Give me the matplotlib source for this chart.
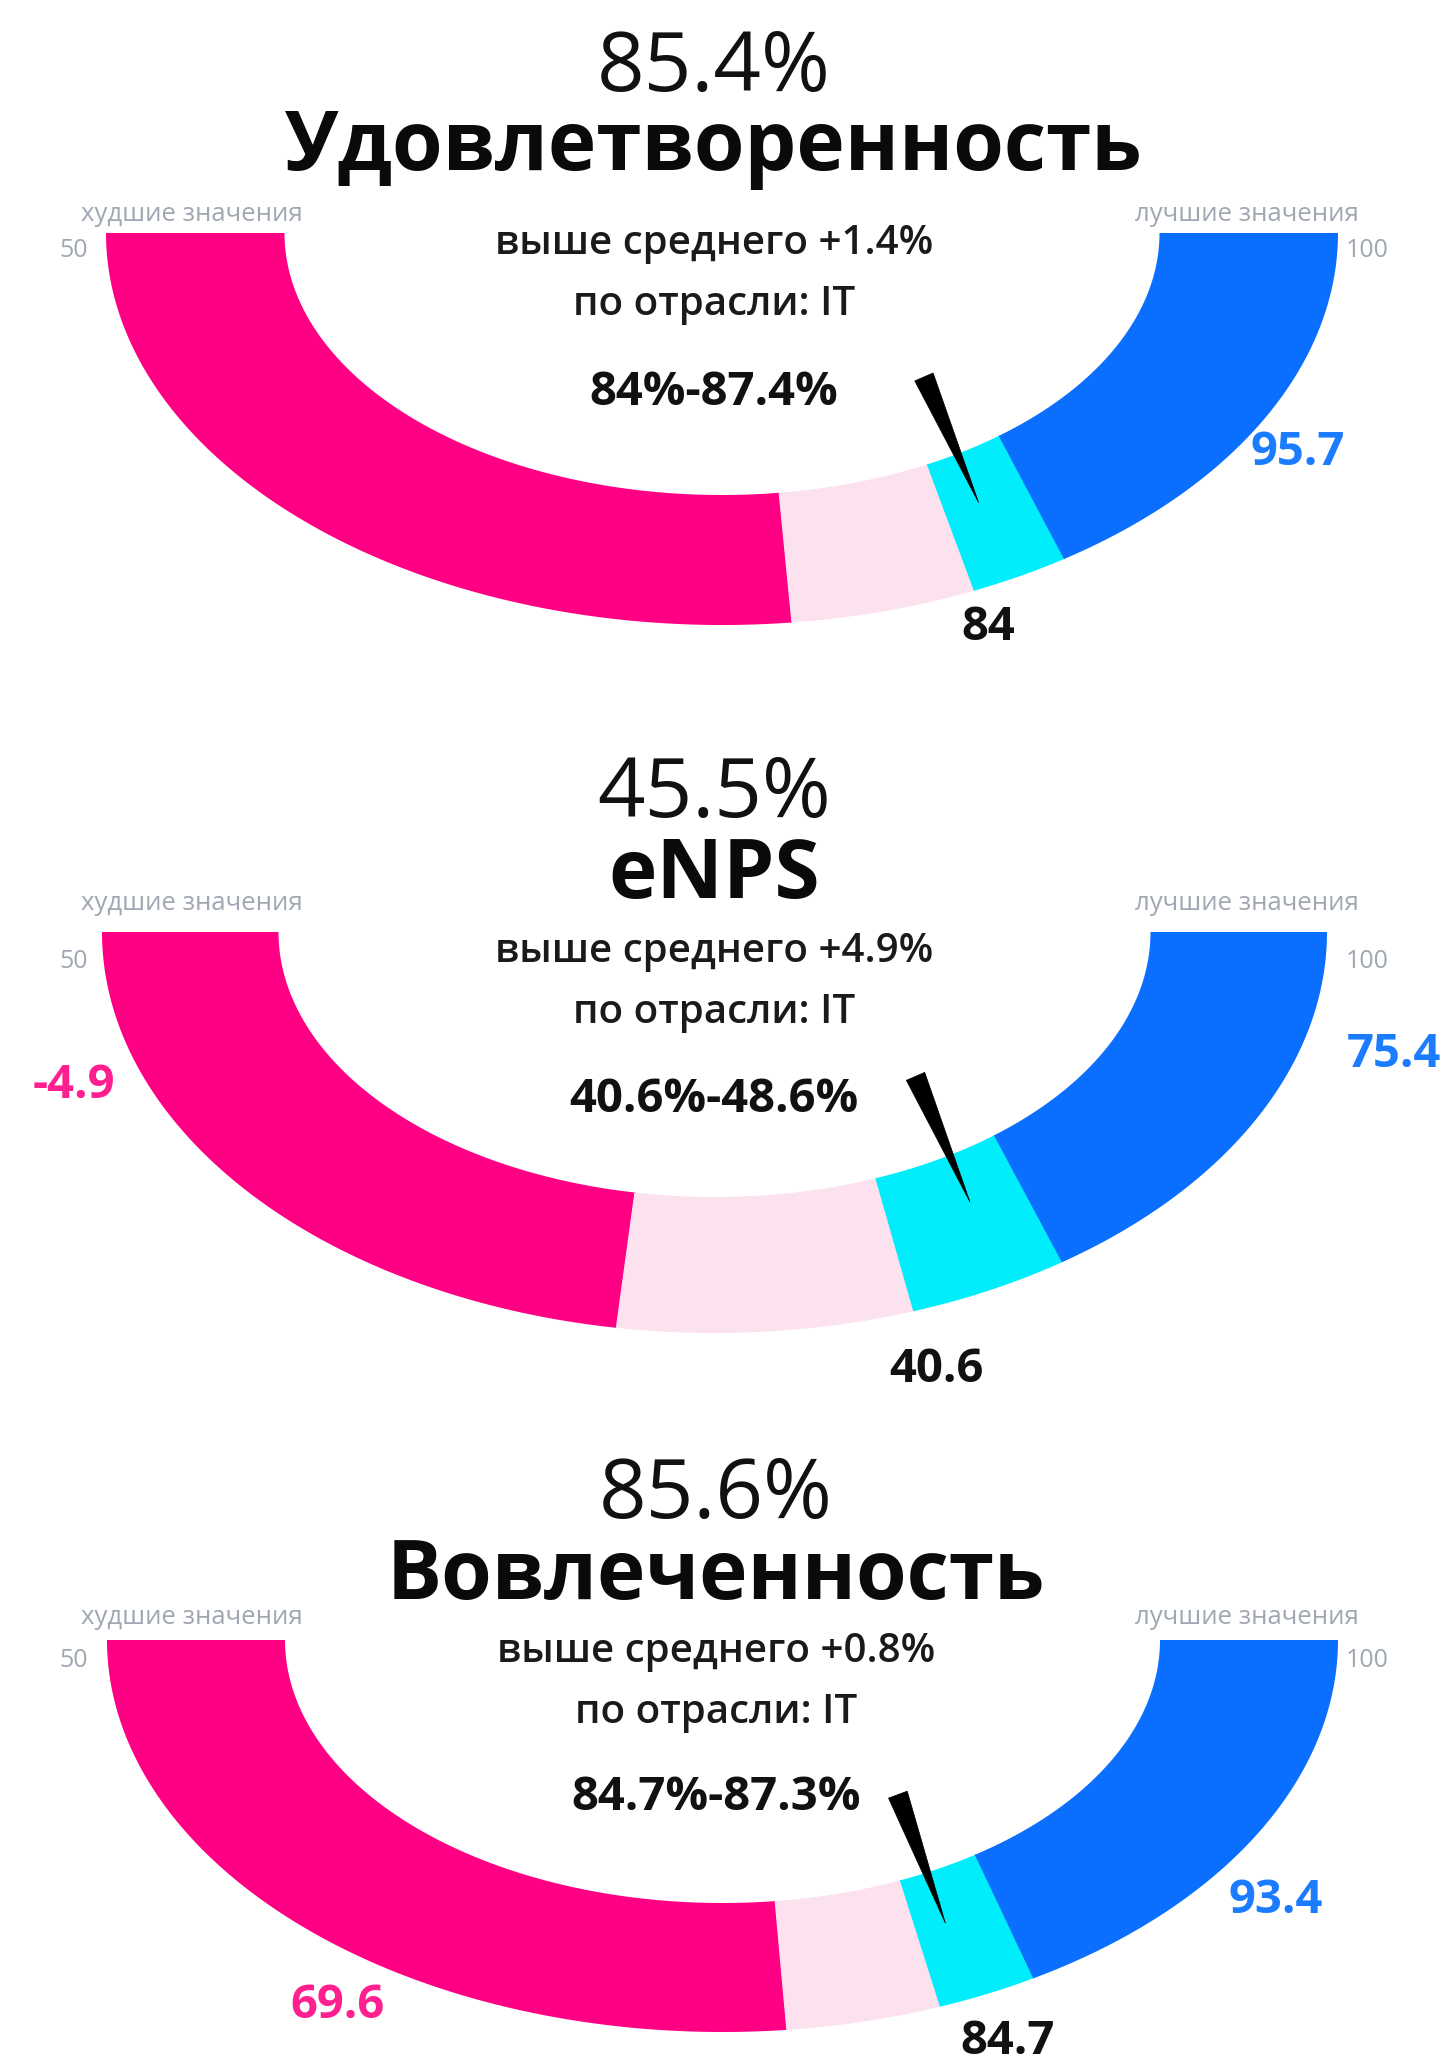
import numpy as np
import matplotlib
matplotlib.use("Agg")
import matplotlib.pyplot as plt
from matplotlib.patches import Wedge, Polygon, PathPatch
from matplotlib.path import Path

# ---------------- data ----------------
titles = ["Удовлетворенность", "eNPS", "Вовлеченность"]
scores = [85.4, 45.5, 85.6]
diff_vs_avg = [1.4, 4.9, 0.8]
industry = "IT"
range_low = [84.0, 40.6, 84.7]
range_high = [87.4, 48.6, 87.3]
worst_split = [77.3, 25.1, 80.5]      # boundary pink / light pink
scale_min = [46.0, -11.3, 57.3]
scale_max = [103.5, 71.7, 100.2]
worst_labels = [None, -4.9, 69.6]
best_labels = [95.7, 75.4, 93.4]
end_labels = ["50", "100"]
side_labels = ["худшие значения", "лучшие значения"]

# ---------------- style / layout ----------------
W, H = 1450, 2067
C_PINK = "#FF0084"
C_LPINK = "#FCE1EE"
C_CYAN = "#00EEFB"
C_BLUE = "#0A6EFF"
C_GRAY = "#9FA7B3"
C_TXT_PINK = "#FF1F8E"
C_TXT_BLUE = "#1C7CFF"
FONT = ["Open Sans", "DejaVu Sans"]

# per gauge: cx, cut_y, Rx_out, Ry_out, Rx_in, Ry_in
geom = [(722, 233, 616, 392, 437.5, 262),
        (714.5, 932, 612.5, 401, 436, 265),
        (722.5, 1640, 615.5, 392, 437.5, 263)]
FOCAL_H = 320.0
SWEEP = 63.5
NEEDLE_TIP, NEEDLE_BASE, NEEDLE_HALF = 643.0, 506.0, 10.0

# text baselines per gauge: number, title, sub1, sub2, range, side labels, end labels
text_y = [(91, 170, 254, 315, 405, 221, 257),
          (817, 898, 962, 1023, 1112, 910, 968),
          (1518, 1599, 1662, 1723, 1810, 1624, 1667)]
text_x = [714, 714, 716]
worst_pos = [None, (74, 1098), (338, 2018)]
best_pos = [(1298, 465, "center"), (1347, 1067, "left"), (1276, 1913, "center")]
low_pos = [(988, 640), (936, 1382), (1008, 2054)]

fig = plt.figure(figsize=(W / 100, H / 100), dpi=100)
ax = fig.add_axes([0, 0, 1, 1])
ax.set_xlim(0, W)
ax.set_ylim(H, 0)
ax.axis("off")


def ring_path(cx, cy, rxo, ryo, rxi, ryi):
    t = np.linspace(0, np.pi, 400)
    outer = np.column_stack([cx + rxo * np.cos(t), cy + ryo * np.sin(t)])
    inner = np.column_stack([cx + rxi * np.cos(t[::-1]), cy + ryi * np.sin(t[::-1])])
    verts = np.vstack([outer, inner, outer[:1]])
    codes = [Path.MOVETO] + [Path.LINETO] * (len(verts) - 2) + [Path.CLOSEPOLY]
    return Path(verts, codes)


for i in range(3):
    cx, cy, rxo, ryo, rxi, ryi = geom[i]
    fx, fy = cx, cy - FOCAL_H
    smin, smax = scale_min[i], scale_max[i]

    def alpha(v):
        return -SWEEP + (v - smin) / (smax - smin) * 2 * SWEEP

    ring = PathPatch(ring_path(cx, cy, rxo, ryo, rxi, ryi), facecolor="none",
                     edgecolor="none", transform=ax.transData)
    ax.add_patch(ring)

    bounds = [smin, worst_split[i], range_low[i], range_high[i], smax]
    cols = [C_PINK, C_LPINK, C_CYAN, C_BLUE]
    for a, b, c in zip(bounds[:-1], bounds[1:], cols):
        wdg = Wedge((fx, fy), 1000, 90 - alpha(b), 90 - alpha(a),
                    facecolor=c, edgecolor=c, linewidth=0.8)
        ax.add_patch(wdg)
        wdg.set_clip_path(ring)

    # needle
    al = np.deg2rad(alpha(scores[i]))
    d = np.array([np.sin(al), np.cos(al)])
    p = np.array([np.cos(al), -np.sin(al)])
    F = np.array([fx, fy])
    tip = F + NEEDLE_TIP * d
    base = F + NEEDLE_BASE * d
    ax.add_patch(Polygon([tip, base + NEEDLE_HALF * p, base - NEEDLE_HALF * p],
                         closed=True, facecolor="black", edgecolor="black", lw=0.5))

    # texts
    ny, tty, s1y, s2y, ry, sidey, endy = text_y[i]
    tx = text_x[i]
    ax.text(tx, ny, f"{scores[i]}%", ha="center", va="baseline", fontsize=60,
            fontweight="normal", family=FONT, color="#111111")
    ax.text(tx, tty, titles[i], ha="center", va="baseline", fontsize=59,
            fontweight="bold", family=FONT, color="#0a0a0a")
    ax.text(tx, s1y, f"выше среднего +{diff_vs_avg[i]}%", ha="center", va="baseline",
            fontsize=29, fontweight="semibold", family=FONT, color="#1a1a1a")
    ax.text(tx, s2y, f"по отрасли: {industry}", ha="center", va="baseline",
            fontsize=29, fontweight="semibold", family=FONT, color="#1a1a1a")
    ax.text(tx, ry, f"{range_low[i]:g}%-{range_high[i]:g}%", ha="center", va="baseline",
            fontsize=34, fontweight="bold", family=FONT, color="#111111")

    ax.text(192, sidey, side_labels[0], ha="center", va="baseline", fontsize=18.5,
            family=FONT, color=C_GRAY)
    ax.text(1247, sidey, side_labels[1], ha="center", va="baseline", fontsize=18.5,
            family=FONT, color=C_GRAY)
    ax.text(74, endy, end_labels[0], ha="center", va="baseline", fontsize=18,
            family=FONT, color=C_GRAY)
    ax.text(1367, endy, end_labels[1], ha="center", va="baseline", fontsize=18,
            family=FONT, color=C_GRAY)

    lx, ly = low_pos[i]
    ax.text(lx, ly, f"{range_low[i]:g}", ha="center", va="baseline", fontsize=34,
            fontweight="bold", family=FONT, color="#111111")
    bx, by, bha = best_pos[i]
    ax.text(bx, by, f"{best_labels[i]:g}", ha=bha, va="baseline", fontsize=34,
            fontweight="bold", family=FONT, color=C_TXT_BLUE, clip_on=True)
    if worst_labels[i] is not None:
        wx, wy = worst_pos[i]
        ax.text(wx, wy, f"{worst_labels[i]:g}", ha="center", va="baseline", fontsize=34,
                fontweight="bold", family=FONT, color=C_TXT_PINK)

fig.savefig("out.png", dpi=100, facecolor="white")
